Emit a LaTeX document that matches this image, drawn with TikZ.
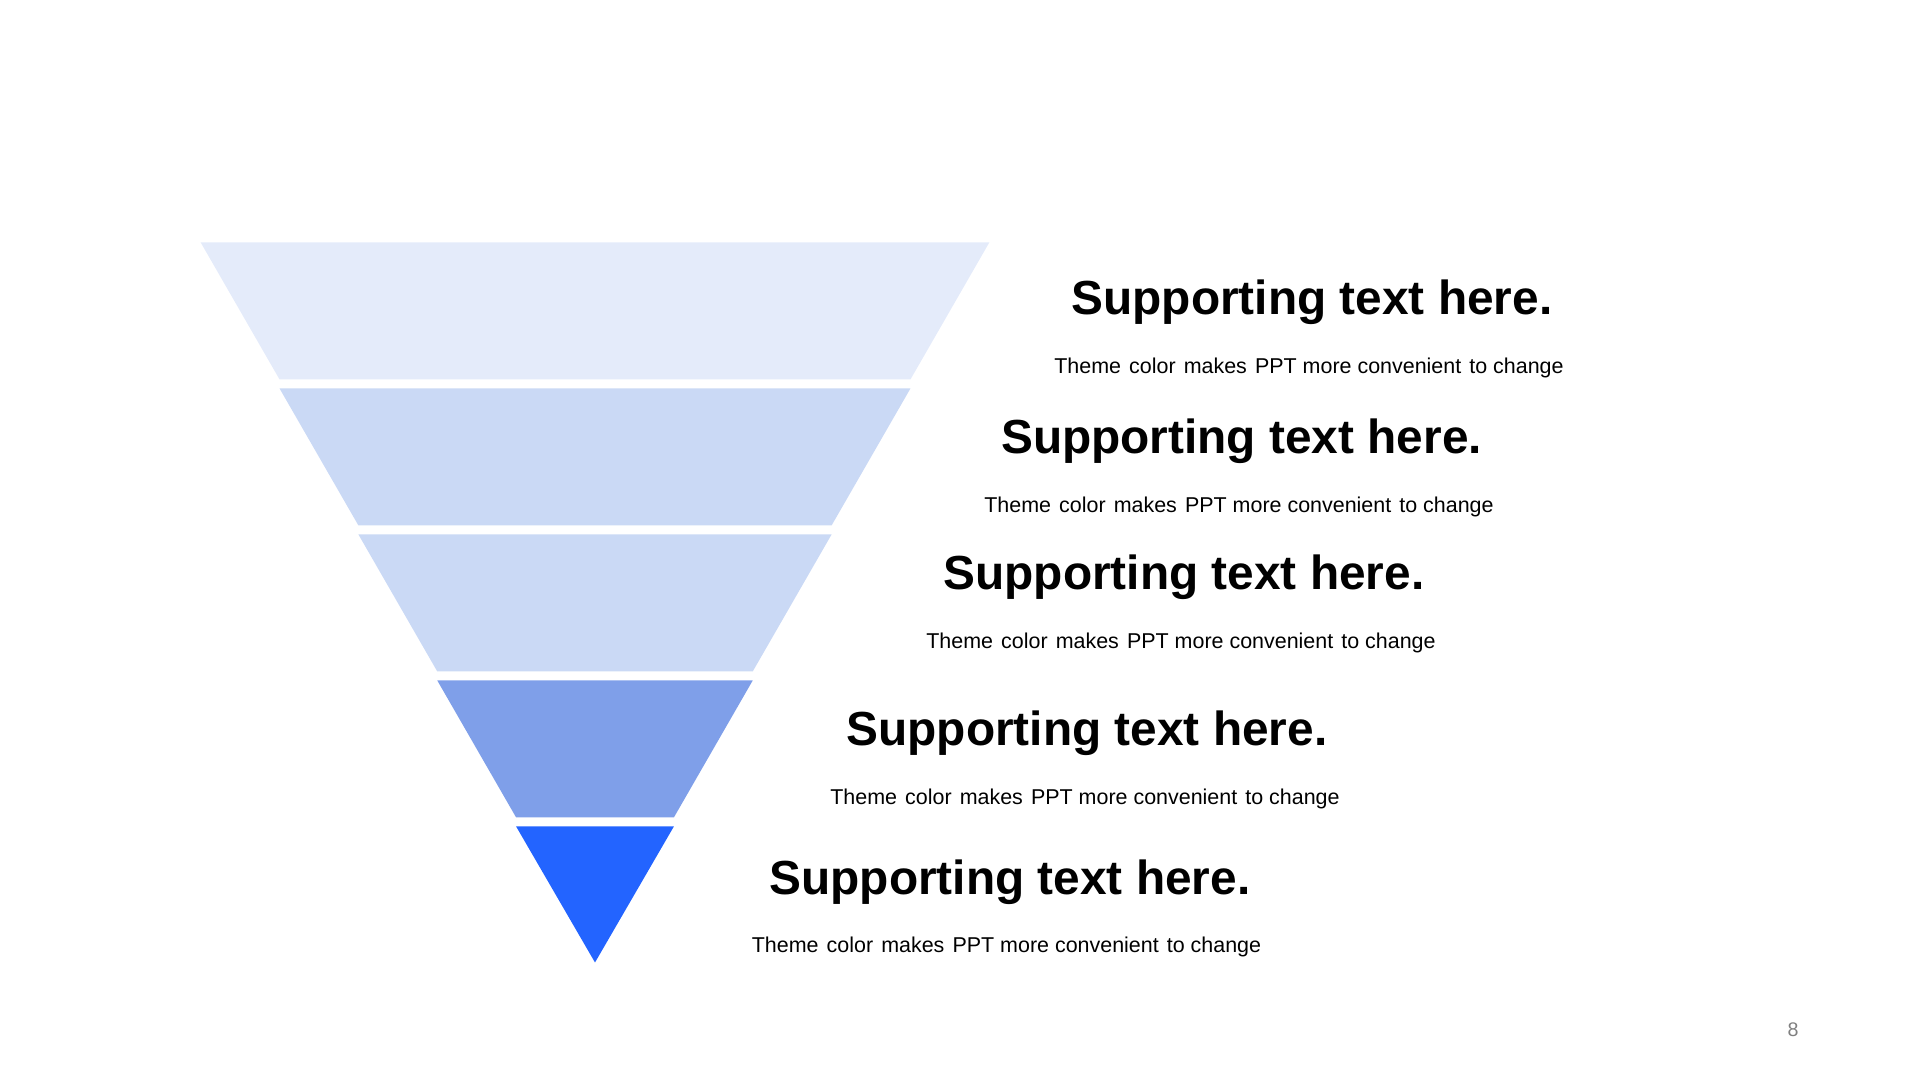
\documentclass[tikz,border=0pt]{standalone}
\usepackage{fontspec}
\setmainfont{Liberation Sans}
\usepackage{xcolor}
\usetikzlibrary{positioning}
\definecolor{bandA}{HTML}{E4EBFA}
\definecolor{bandB}{HTML}{CAD9F5}
\definecolor{bandC}{HTML}{7F9FE9}
\definecolor{bandD}{HTML}{2364FF}
\newcommand{\wgap}{\hspace{0.1em} }
\newcommand{\subtext}{Theme\wgap color\wgap makes\wgap PPT more convenient\wgap to change}

\begin{document}
\begin{tikzpicture}[
        x=0.01cm, y=-0.01cm,
        headline/.style={anchor=base, font=\fontsize{13.6}{16}\selectfont\bfseries},
        subline/.style={anchor=base, font=\fontsize{6.1}{7}\selectfont},
        pagenum/.style={font=\fontsize{5.6}{6}\selectfont, text=black!50}
    ]
        \useasboundingbox (0,0) rectangle (1920,1080);
        % funnel bands
        \foreach \i/\col in {0/bandA,1/bandB,2/bandB,3/bandC,4/bandD}{
            \pgfmathsetmacro{\yt}{242.5+146*\i}
            \pgfmathsetmacro{\yb}{min(\yt+137,962.5)}
            \pgfmathsetmacro{\wt}{394.3-78.86*\i}
            \pgfmathsetmacro{\wb}{max(\wt-78.86,0)}
            \fill[\col] (595-\wt,\yt) -- (595+\wt,\yt) -- (595+\wb,\yb) -- (595-\wb,\yb) -- cycle;
        }
        % texts
        \node[headline] (h1) at (1312,314.6) {Supporting text here.};
        \node[subline] (s1) at (1309,373.3) {\subtext};
        \node[headline] (h2) at (1241.6,454) {Supporting text here.};
        \node[subline] (s2) at (1239,513) {\subtext};
        \node[headline] (h3) at (1184,590) {Supporting text here.};
        \node[subline] (s3) at (1181,649) {\subtext};
        \node[headline] (h4) at (1087,745.6) {Supporting text here.};
        \node[subline] (s4) at (1085,804.3) {\subtext};
        \node[headline] (h5) at (1010,895) {Supporting text here.};
        \node[subline] (s5) at (1006.5,952.6) {\subtext};
        \node[pagenum] (page) at (1793,1030) {8};
    \end{tikzpicture}
\end{document}
